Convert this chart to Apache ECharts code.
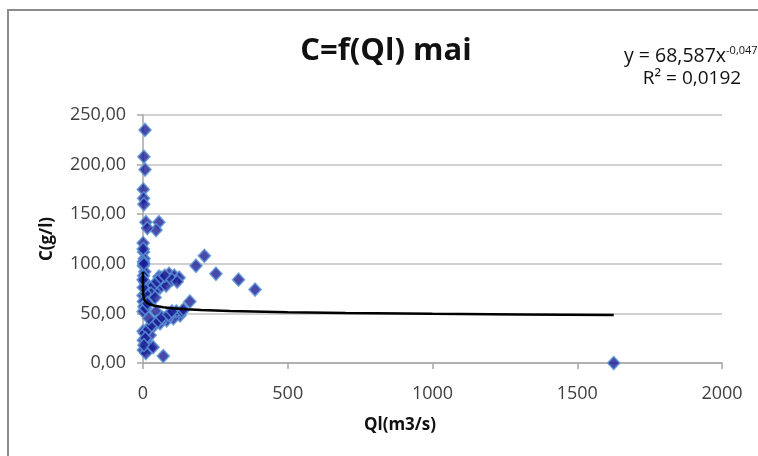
<!DOCTYPE html>
<html>
<head>
<meta charset="utf-8">
<script src="https://cdn.jsdelivr.net/npm/echarts@6/dist/echarts.min.js"></script>
<style>
  html, body { margin: 0; padding: 0; background: #ffffff; }
  #chart { width: 758px; height: 456px; }
</style>
</head>
<body>
<div id="chart"></div>
<script>
// Discharge Ql (m3/s) and concentration C (g/l), May measurements
const qlValues = [
  7, 3, 7, 1, 2, 3, 10, 55, 45, 15, 0.5, 2, 4, 1, 6,
  212, 183, 252, 330, 387, 162,
  90, 108, 125, 72, 55, 65, 59, 30, 18, 40, 80,
  0.002, 1, 3, 0.5, 8, 2, 5, 12, 20, 25,
  128, 105, 82, 59, 36, 13, 0.3, 45, 115, 135, 24, 47, 70, 93,
  1, 25, 15, 1, 24, 70, 10,
  10, 20, 35, 48, 62, 75, 100, 118, 28, 42, 8, 15, 0.8, 0.3, 1.5, 0.7, 3,
  5, 18, 30, 52, 65, 88, 100, 140, 20, 8, 3, 35,
  1626
];
const cValues = [
  235, 208, 195, 175, 166, 160, 142, 142, 134, 136, 121, 112, 105, 98, 92,
  108, 98, 90, 84, 74, 62,
  90, 88, 86, 84, 87, 80, 76, 74, 67, 72, 78,
  68, 62, 57, 52, 55, 88, 82, 78, 70, 62,
  48, 45, 43, 40, 37, 33, 32, 52, 52, 52, 37, 42, 45, 48,
  23, 28, 20, 13, 15, 7, 10,
  80, 76, 78, 82, 86, 88, 84, 82, 70, 66, 70, 60, 76, 84, 102, 115, 100,
  30, 34, 38, 42, 46, 49, 52, 54, 45, 25, 18, 16,
  0
];

// Power trend line y = a * x^b
const trendA = 68.587;
const trendB = -0.047;
const trendQ = [0.002, 0.005, 0.01, 0.03, 0.1, 0.3, 1, 2, 5, 10, 20, 40, 70, 100, 150, 200, 300, 500, 700, 1000, 1300, 1626];

// Axis ticks
const xTicks = [0, 500, 1000, 1500, 2000];
const yTicks = [0, 50, 100, 150, 200, 250];

const points = qlValues.map((q, i) => [q, cValues[i]]);
const trend = trendQ.map(q => [q, trendA * Math.pow(q, trendB)]);

const font = '"Open Sans", "Liberation Sans", sans-serif';
const chart = echarts.init(document.getElementById('chart'), null, { renderer: 'canvas' });

chart.setOption({
  animation: false,
  backgroundColor: '#ffffff',
  grid: { left: 143, right: 36, top: 115, bottom: 93 },
  xAxis: {
    type: 'value',
    min: xTicks[0],
    max: xTicks[xTicks.length - 1],
    interval: xTicks[1] - xTicks[0],
    axisLine: { show: true, lineStyle: { color: '#a6a6a6', width: 1.5 } },
    axisTick: { show: true, length: 6, lineStyle: { color: '#a6a6a6', width: 1.5 } },
    axisLabel: { margin: 22, fontFamily: font, fontSize: 18, color: '#404040', formatter: v => String(v) },
    splitLine: { show: false }
  },
  yAxis: {
    type: 'value',
    min: yTicks[0],
    max: yTicks[yTicks.length - 1],
    interval: yTicks[1] - yTicks[0],
    axisLine: { show: true, lineStyle: { color: '#a6a6a6', width: 1.5 } },
    axisTick: { show: true, length: 6, lineStyle: { color: '#a6a6a6', width: 1.5 } },
    axisLabel: {
      margin: 17, fontFamily: font, fontSize: 18, color: '#404040',
      formatter: v => v.toFixed(2).replace('.', ',')
    },
    splitLine: { show: true, lineStyle: { color: '#c0c0c0', width: 1.5 } }
  },
  series: [
    {
      type: 'scatter',
      data: points,
      symbol: 'diamond',
      symbolSize: [12, 13],
      itemStyle: { color: '#1c1c94', borderColor: '#5a94d6', borderWidth: 1.6 },
      z: 2
    },
    {
      type: 'line',
      data: trend,
      smooth: false,
      showSymbol: false,
      lineStyle: { color: '#000000', width: 2.5 },
      z: 3
    }
  ],
  graphic: [
    {
      type: 'rect',
      shape: { x: 8, y: 10, width: 800, height: 500 },
      style: { fill: 'none', stroke: '#8c8c8c', lineWidth: 2 },
      silent: true
    },
    {
      type: 'text', x: 386, y: 51,
      style: {
        text: 'C=f(Ql) mai', fontFamily: font, fontWeight: 'bold', fontSize: 31,
        fill: '#111111', textAlign: 'center', textVerticalAlign: 'middle'
      }
    },
    {
      type: 'text', x: 624, y: 56,
      style: {
        text: '{b|y = 68,587x}{s|-0,047}',
        textAlign: 'left', textVerticalAlign: 'middle',
        rich: {
          b: { fontFamily: font, fontSize: 19.5, fill: '#111111', lineHeight: 22 },
          s: { fontFamily: font, fontSize: 11, fill: '#111111', verticalAlign: 'top', lineHeight: 22 }
        }
      }
    },
    {
      type: 'text', x: 692, y: 79,
      style: {
        text: 'R² = 0,0192', fontFamily: font, fontSize: 19, fill: '#111111',
        textAlign: 'center', textVerticalAlign: 'middle'
      }
    },
    {
      type: 'text', x: 400, y: 425,
      style: {
        text: 'Ql(m3/s)', fontFamily: font, fontWeight: 'bold', fontSize: 17,
        fill: '#111111', textAlign: 'center', textVerticalAlign: 'middle'
      }
    },
    {
      type: 'text', x: 47, y: 239, rotation: Math.PI / 2,
      style: {
        text: 'C(g/l)', fontFamily: font, fontWeight: 'bold', fontSize: 17,
        fill: '#111111', textAlign: 'center', textVerticalAlign: 'middle'
      }
    }
  ]
});
</script>
</body>
</html>
